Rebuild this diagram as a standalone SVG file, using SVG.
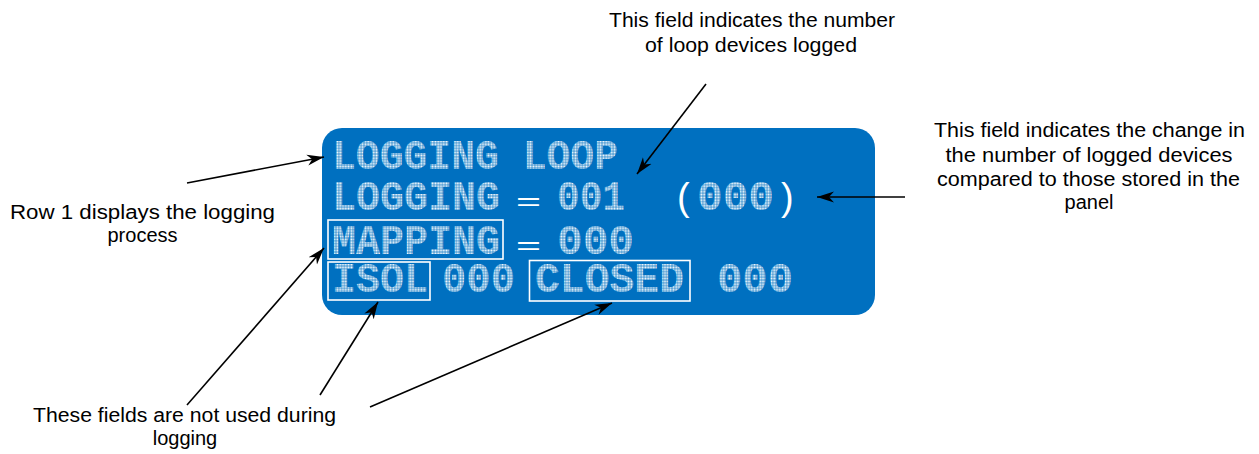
<svg xmlns="http://www.w3.org/2000/svg" width="1259" height="454" viewBox="0 0 1259 454">
  <defs>
    <!-- dot-matrix fill for the LCD characters -->
    <pattern id="dots" width="2.8" height="2.8" patternUnits="userSpaceOnUse">
      <rect x="0.35" y="0.35" width="2.1" height="2.1" fill="#ffffff"/>
    </pattern>
    <marker id="arrow" markerWidth="18" markerHeight="12" refX="17" refY="6" orient="auto" markerUnits="userSpaceOnUse">
      <path d="M0,0.5 L17,6 L0,11.5 L5,6 Z" fill="#000"/>
    </marker>
    <style>
      .lcd { font-family: "Liberation Mono", "DejaVu Sans Mono", monospace; font-size: 42px; font-weight: bold; fill: url(#dots); }
      .sym { font-family: "Liberation Sans", Arial, sans-serif; fill: #ffffff; }
      .frame { fill: none; stroke: #ffffff; stroke-width: 1.6; }
      .note { font-family: "Liberation Sans", Arial, sans-serif; font-size: 20px; fill: #000; text-anchor: middle; }
      .lead { stroke: #000; stroke-width: 1.6; fill: none; marker-end: url(#arrow); }
    </style>
  </defs>

  <rect width="1259" height="454" fill="#ffffff"/>

  <!-- panel display -->
  <g id="display">
    <rect x="322" y="128" width="553" height="187" rx="20" ry="20" fill="#0070C0"/>

    <text class="lcd" x="332" y="168.5" textLength="286" lengthAdjust="spacingAndGlyphs">LOGGING LOOP</text>

    <text class="lcd" x="332" y="210" textLength="168" lengthAdjust="spacingAndGlyphs">LOGGING</text>
    <text class="sym" x="516" y="210" font-size="26" textLength="25" lengthAdjust="spacingAndGlyphs">=</text>
    <text class="lcd" x="557" y="210" textLength="68" lengthAdjust="spacingAndGlyphs">001</text>
    <text class="sym" x="677" y="210" font-size="38">(</text>
    <text class="lcd" x="697" y="210" textLength="77" lengthAdjust="spacingAndGlyphs">000</text>
    <text class="sym" x="781" y="210" font-size="38">)</text>

    <g id="mapping-field">
      <rect class="frame" x="328" y="220" width="175" height="39"/>
      <text class="lcd" x="332" y="253.5" textLength="168" lengthAdjust="spacingAndGlyphs">MAPPING</text>
    </g>
    <text class="sym" x="516" y="253.5" font-size="26" textLength="25" lengthAdjust="spacingAndGlyphs">=</text>
    <text class="lcd" x="557" y="253.5" textLength="77" lengthAdjust="spacingAndGlyphs">000</text>

    <g id="isol-field">
      <rect class="frame" x="328" y="262" width="102" height="38"/>
      <text class="lcd" x="332" y="292" textLength="96" lengthAdjust="spacingAndGlyphs">ISOL</text>
    </g>
    <text class="lcd" x="442" y="292" textLength="73" lengthAdjust="spacingAndGlyphs">000</text>
    <g id="closed-field">
      <rect class="frame" x="529.5" y="260.5" width="160.5" height="40.5"/>
      <text class="lcd" x="535" y="292" textLength="149" lengthAdjust="spacingAndGlyphs">CLOSED</text>
    </g>
    <text class="lcd" x="717" y="292" textLength="76" lengthAdjust="spacingAndGlyphs">000</text>
  </g>

  <!-- callout labels -->
  <g id="note-count">
    <text class="note" x="752" y="27" textLength="286" lengthAdjust="spacingAndGlyphs">This field indicates the number</text>
    <text class="note" x="751" y="52" textLength="212" lengthAdjust="spacingAndGlyphs">of loop devices logged</text>
  </g>
  <g id="note-change">
    <text class="note" x="1089.5" y="137" textLength="311" lengthAdjust="spacingAndGlyphs">This field indicates the change in</text>
    <text class="note" x="1089" y="161.5" textLength="287" lengthAdjust="spacingAndGlyphs">the number of logged devices</text>
    <text class="note" x="1088.5" y="186" textLength="303" lengthAdjust="spacingAndGlyphs">compared to those stored in the</text>
    <text class="note" x="1089" y="209">panel</text>
  </g>
  <g id="note-row1">
    <text class="note" x="142.5" y="219" textLength="265" lengthAdjust="spacingAndGlyphs">Row 1 displays the logging</text>
    <text class="note" x="142.5" y="242">process</text>
  </g>
  <g id="note-unused">
    <text class="note" x="184.5" y="422" textLength="303" lengthAdjust="spacingAndGlyphs">These fields are not used during</text>
    <text class="note" x="185" y="445">logging</text>
  </g>

  <!-- leader arrows -->
  <g id="connectors">
    <line class="lead" x1="187" y1="183" x2="324" y2="157"/>
    <line class="lead" x1="706" y1="84" x2="637" y2="174"/>
    <line class="lead" x1="905" y1="197" x2="817" y2="197"/>
    <line class="lead" x1="187" y1="405" x2="324" y2="248"/>
    <line class="lead" x1="320" y1="395" x2="378" y2="302"/>
    <line class="lead" x1="370" y1="407" x2="612" y2="303"/>
  </g>
</svg>
